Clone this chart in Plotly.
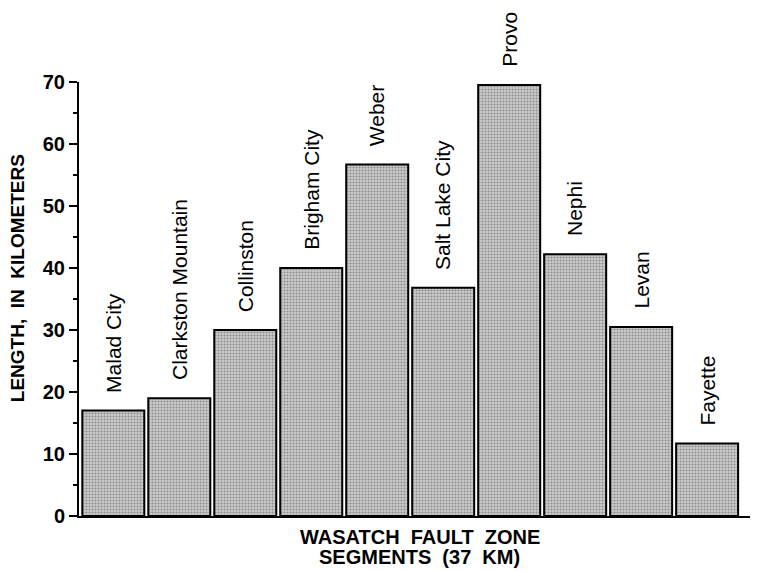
import plotly.graph_objects as go

segments = ["Malad City", "Clarkston Mountain", "Collinston", "Brigham City", "Weber",
            "Salt Lake City", "Provo", "Nephi", "Levan", "Fayette"]
lengths_km = [17, 19, 30, 40, 56.7, 36.8, 69.5, 42.2, 30.5, 11.7]
y_ticks = [0, 10, 20, 30, 40, 50, 60, 70]
x_title_lines = ["WASATCH\u00a0\u00a0FAULT\u00a0\u00a0ZONE", "SEGMENTS\u00a0\u00a0(37\u00a0\u00a0KM)"]
y_title = "LENGTH,\u00a0\u00a0IN\u00a0\u00a0KILOMETERS"

FONT = "Liberation Sans, Arial, Helvetica, sans-serif"

fig = go.Figure()
fig.add_trace(go.Bar(
    x=list(range(len(segments))),
    y=lengths_km,
    width=0.94,
    marker=dict(
        color="#5a5a5a",
        line=dict(color="black", width=2),
        pattern=dict(shape=".", fgcolor="#4d4d4d", bgcolor="#cccccc", size=3, solidity=0.4),
    ),
    hoverinfo="skip",
))

annotations = []
for i, (name, v) in enumerate(zip(segments, lengths_km)):
    annotations.append(dict(
        x=i, y=v, xref="x", yref="y", text=name, showarrow=False,
        textangle=-90, xanchor="center", yanchor="bottom", yshift=16,
        font=dict(family=FONT, size=21, color="black"),
    ))

for k, line in enumerate(x_title_lines):
    annotations.append(dict(
        x=0.508, y=0, xref="paper", yref="paper", yshift=-21 - 20 * k,
        text=f"<b>{line}</b>",
        showarrow=False, xanchor="center", yanchor="middle",
        font=dict(family=FONT, size=20, color="black"),
    ))
annotations.append(dict(
    x=0, y=0.548, xref="paper", yref="paper", xshift=-62,
    text=f"<b>{y_title}</b>",
    showarrow=False, xanchor="center", yanchor="middle", textangle=-90,
    font=dict(family=FONT, size=19, color="black"),
))

# the page body has an 8px default margin; compensate in size and margins
fig.update_layout(
    width=751, height=563,
    margin=dict(l=71, r=9, t=74, b=55),
    paper_bgcolor="white", plot_bgcolor="white",
    showlegend=False,
    bargap=0.06,
    annotations=annotations,
    xaxis=dict(
        range=[-0.52, 9.65], showticklabels=False, ticks="", showgrid=False,
        zeroline=False, showline=True, linecolor="black", linewidth=2,
    ),
    yaxis=dict(
        range=[0, 70], tickvals=y_ticks, ticktext=[f"<b>{t}</b>" for t in y_ticks],
        ticks="outside", ticklen=8, tickwidth=2, tickcolor="black",
        minor=dict(dtick=5, ticks="outside", ticklen=4, tickwidth=1.5, tickcolor="black", showgrid=False),
        showgrid=False, zeroline=False, showline=True, linecolor="black", linewidth=2,
        tickfont=dict(family=FONT, size=20, color="black"),
    ),
)

fig.write_html("out.html")
